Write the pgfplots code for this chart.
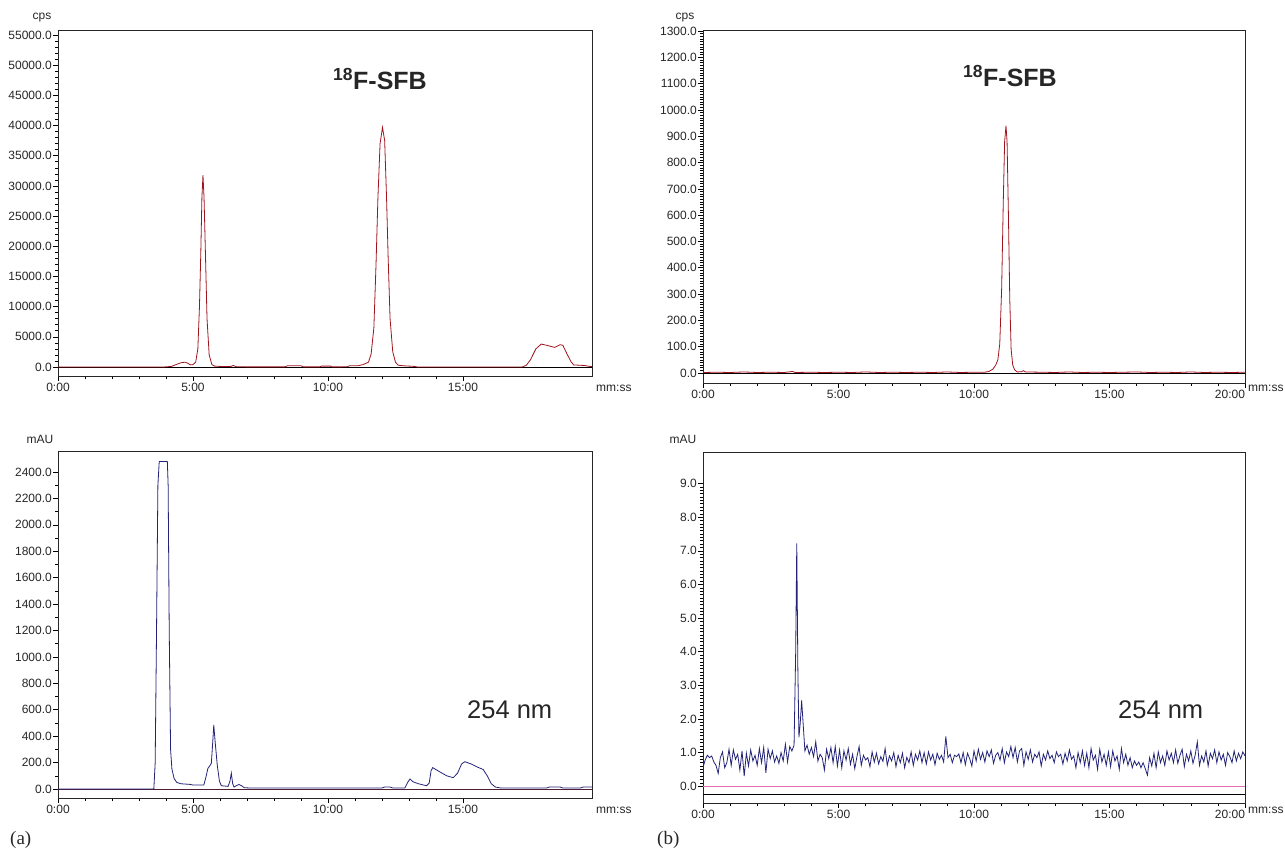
\documentclass[border=0pt]{standalone}
\usepackage{fontspec}
\setmainfont{Liberation Sans}
\newfontfamily\serifx{Liberation Serif}
\usepackage{pgfplots}
\pgfplotsset{compat=1.18}
\definecolor{trred}{RGB}{160,20,30}
\definecolor{trblue}{RGB}{35,35,120}
\definecolor{pinkl}{RGB}{230,110,180}
\definecolor{basebrown}{RGB}{80,30,50}
\pgfplotsset{chrom/.style={scale only axis, anchor=north west,
  axis line style={black!85, line width=0.8pt},
  tick pos=left, tick align=outside,
  major tick length=5pt, minor tick length=3pt,
  every tick/.style={black, line width=0.6pt},
  scaled y ticks=false,
  ticklabel style={font=\fontsize{12}{13}\selectfont, text=black!85},
  /pgf/number format/assume math mode=true,
  yticklabel style={/pgf/number format/fixed, /pgf/number format/fixed zerofill, /pgf/number format/precision=1, /pgf/number format/1000 sep={}, inner sep=1pt},
  xticklabel style={inner sep=2pt},
  minor x tick num=4}}
\begin{document}
\begin{tikzpicture}
\path (0,0) rectangle (1285pt,-855pt);
% ---------------- A1 ----------------
\begin{axis}[chrom, at={(58pt,-30pt)}, width=534pt, height=346pt,
  xmin=0, xmax=19.78, ymin=-1491, ymax=55830,
  xtick={0,5,10,15}, xticklabels={0:00,5:00,10:00,15:00},
  ytick={0,5000,...,55000}, minor y tick num=4]
\addplot[black, line width=0.8pt] coordinates {(0,0) (19.78,0)};
\addplot[trred, line width=0.8pt] coordinates {
(0,0)(3.9,0)(4.0,30)(4.2,100)(4.4,450)(4.55,700)(4.7,800)(4.8,650)(4.9,350)(5.0,400)
(5.1,800)(5.18,3000)(5.24,10000)(5.29,19000)(5.33,28000)(5.37,31800)(5.41,28000)(5.46,19000)(5.52,8000)(5.6,2000)(5.7,400)
(5.8,150)(6.0,100)(6.4,100)(6.5,250)(6.6,60)(7.0,20)(8.4,20)(8.5,200)(9.0,200)(9.1,20)(9.7,20)(9.75,150)(10.1,150)(10.15,20)
(10.7,30)(10.8,200)(11.1,200)(11.3,400)(11.5,800)(11.6,2200)(11.7,6500)(11.78,17000)(11.85,28000)(11.93,37000)(12.02,39700)
(12.1,37500)(12.17,28000)(12.23,18000)(12.3,8000)(12.4,2500)(12.5,800)(12.6,300)(12.8,200)(13.2,100)(13.3,10)
(17.2,10)(17.35,300)(17.5,1200)(17.7,3000)(17.9,3800)(18.1,3600)(18.4,3250)(18.6,3700)(18.7,3600)(18.85,2200)(19.0,900)
(19.1,350)(19.3,300)(19.5,250)(19.7,100)(19.78,80)};
\end{axis}
% ---------------- A2 ----------------
\begin{axis}[chrom, at={(58pt,-451pt)}, width=534pt, height=347pt,
  xmin=0, xmax=19.78, ymin=-68, ymax=2559,
  xtick={0,5,10,15}, xticklabels={0:00,5:00,10:00,15:00},
  ytick={0,200,...,2400}, minor y tick num=1]
\addplot[basebrown, line width=0.9pt] coordinates {(0,0) (19.78,0)};
\addplot[trblue, line width=0.8pt] coordinates {
(0,0)(3.55,0)(3.6,200)(3.65,1200)(3.7,2300)(3.75,2480)(4.05,2480)(4.08,2300)(4.12,1200)(4.17,300)(4.22,150)
(4.3,80)(4.4,50)(4.55,40)(4.9,35)(5.0,30)(5.4,30)(5.48,90)(5.55,155)(5.62,175)(5.68,195)(5.73,350)(5.77,485)
(5.82,360)(5.9,180)(5.98,60)(6.05,25)(6.3,20)(6.37,60)(6.42,120)(6.47,40)(6.52,15)(6.6,25)(6.7,35)(6.8,25)(6.9,10)
(7.1,8)(12.0,8)(12.1,15)(12.3,15)(12.4,8)(12.85,8)(12.95,50)(13.04,76)(13.15,55)(13.35,40)(13.55,30)(13.65,25)
(13.75,45)(13.82,140)(13.88,162)(14.1,135)(14.4,100)(14.64,86)(14.8,120)(14.95,190)(15.07,207)(15.3,190)(15.55,165)
(15.75,148)(15.9,100)(16.05,40)(16.2,15)(16.4,8)(18.1,8)(18.2,15)(18.6,15)(18.7,8)(19.35,8)(19.45,15)(19.78,15)};
\end{axis}
% ---------------- B1 ----------------
\begin{axis}[chrom, at={(703pt,-30pt)}, width=542pt, height=353pt,
  xmin=0, xmax=20, ymin=-38, ymax=1304,
  xtick={0,5,10,15,20}, xticklabels={0:00,5:00,10:00,15:00,\makebox[0pt][r]{20:00}},
  ytick={0,100,...,1300}, minor y tick num=9]
\addplot[black, line width=0.8pt] coordinates {(0,0) (20,0)};
\addplot[trred, line width=0.8pt] coordinates {
(0,2)(0.5,3)(1,2)(1.5,4)(2,2)(2.5,3)(3,2)(3.3,6)(3.4,2)(4,3)(4.5,2)(5,3)(5.5,2)(6,4)(6.5,2)(7,3)(7.5,2)(8,3)
(8.5,2)(9,4)(9.5,2)(10,3)(10.4,3)(10.55,6)(10.7,15)(10.8,30)(10.88,50)(10.95,110)(11.02,320)(11.08,650)(11.13,880)
(11.18,940)(11.22,880)(11.27,600)(11.32,280)(11.37,90)(11.43,30)(11.5,12)(11.6,4)(11.75,5)(11.82,9)(11.9,4)
(12.5,3)(13,2)(13.5,4)(14,2)(14.5,3)(15,2)(15.5,3)(16,4)(16.5,2)(17,3)(17.5,2)(18,4)(18.5,2)(19,3)(19.5,2)(20,3)};
\end{axis}
% ---------------- B2 ----------------
\begin{axis}[chrom, at={(703pt,-452pt)}, width=542pt, height=351pt,
  xmin=0, xmax=20, ymin=-0.5, ymax=9.94,
  xtick={0,5,10,15,20}, xticklabels={0:00,5:00,10:00,15:00,\makebox[0pt][r]{20:00}},
  ytick={0,1,...,9}, minor y tick num=9]
\addplot[black, line width=0.9pt] coordinates {(0,-0.24) (20,-0.24)};
\addplot[pinkl, line width=0.8pt] coordinates {(0,0) (20,0)};
\addplot[trblue, line width=0.8pt] coordinates {
(0.00,0.55)(0.08,0.78)(0.16,0.92)(0.24,0.85)(0.32,0.90)(0.40,0.72)(0.48,0.62)(0.56,0.38)(0.64,0.85)(0.72,1.02)
(0.80,0.55)(0.88,0.70)(0.96,1.10)(1.04,0.62)(1.12,1.08)(1.20,0.80)(1.28,0.95)(1.36,0.48)(1.44,1.05)(1.52,0.30)
(1.60,0.98)(1.68,0.60)(1.76,1.08)(1.84,0.75)(1.92,0.92)(2.00,0.62)(2.08,1.12)(2.16,0.70)(2.24,1.15)(2.32,0.40)
(2.40,1.10)(2.48,0.82)(2.56,1.05)(2.64,0.72)(2.72,0.90)(2.80,0.68)(2.88,1.00)(2.96,0.75)(3.04,1.25)(3.12,0.72)
(3.20,1.18)(3.28,1.05)(3.36,1.22)(3.42,4.0)(3.46,7.22)(3.50,3.5)(3.54,1.45)(3.59,1.9)(3.64,2.55)(3.70,1.8)
(3.76,1.05)(3.84,1.22)(3.92,0.95)(4.00,1.15)(4.08,0.88)(4.16,1.32)(4.24,0.75)(4.32,0.95)(4.40,0.85)(4.48,0.48)
(4.56,1.10)(4.64,0.82)(4.72,1.15)(4.80,0.70)(4.88,1.18)(4.96,0.60)(5.04,1.08)(5.12,0.55)(5.20,1.05)(5.28,0.78)
(5.36,1.12)(5.44,0.65)(5.52,0.95)(5.60,0.52)(5.68,0.88)(5.76,1.18)(5.84,0.62)(5.92,0.92)(6.00,0.78)(6.08,0.85)
(6.16,0.58)(6.24,1.02)(6.32,0.72)(6.40,0.98)(6.48,0.66)(6.56,0.88)(6.64,0.74)(6.72,1.12)(6.80,0.62)(6.88,0.90)
(6.96,0.75)(7.04,1.00)(7.12,0.58)(7.20,0.92)(7.28,0.70)(7.36,0.98)(7.44,0.55)(7.52,0.86)(7.60,0.70)(7.68,1.02)
(7.76,0.62)(7.84,0.95)(7.92,0.78)(8.00,1.05)(8.08,0.70)(8.16,1.00)(8.24,0.66)(8.32,1.02)(8.40,0.78)(8.48,0.95)
(8.56,0.64)(8.64,0.98)(8.72,0.80)(8.80,0.92)(8.88,0.72)(8.96,1.48)(9.04,0.85)(9.12,0.95)(9.20,0.70)(9.28,0.92)
(9.36,0.88)(9.44,0.96)(9.52,0.70)(9.60,1.00)(9.68,0.64)(9.76,0.98)(9.84,0.82)(9.92,0.60)(10.00,1.05)(10.08,0.75)
(10.16,1.10)(10.24,0.80)(10.32,1.00)(10.40,0.72)(10.48,1.05)(10.56,0.88)(10.64,1.08)(10.72,0.68)(10.80,0.92)(10.88,1.00)
(10.96,0.78)(11.04,1.12)(11.12,0.70)(11.20,1.02)(11.28,0.88)(11.36,1.18)(11.44,0.85)(11.52,1.15)(11.60,0.72)(11.68,1.05)
(11.76,1.12)(11.84,0.62)(11.92,1.02)(12.00,0.80)(12.08,1.08)(12.16,0.72)(12.24,0.95)(12.32,0.85)(12.40,1.02)(12.48,0.60)
(12.56,0.95)(12.64,0.78)(12.72,1.05)(12.80,0.82)(12.88,0.92)(12.96,0.70)(13.04,1.02)(13.12,0.88)(13.20,0.95)(13.28,0.66)
(13.36,0.98)(13.44,0.75)(13.52,1.08)(13.60,0.80)(13.68,0.90)(13.76,0.55)(13.84,1.00)(13.92,0.70)(14.00,1.05)(14.08,0.62)
(14.16,0.98)(14.24,0.55)(14.32,1.12)(14.40,0.78)(14.48,0.92)(14.56,0.50)(14.64,1.10)(14.72,0.72)(14.80,0.95)(14.88,0.62)
(14.96,1.02)(15.04,0.58)(15.12,1.05)(15.20,0.75)(15.28,0.90)(15.36,0.50)(15.44,1.12)(15.52,0.70)(15.60,0.95)(15.68,0.62)
(15.76,0.85)(15.84,0.55)(15.92,0.75)(16.00,0.62)(16.08,0.72)(16.16,0.55)(16.24,0.70)(16.32,0.52)(16.40,0.33)(16.48,0.85)
(16.56,0.60)(16.64,0.98)(16.72,0.55)(16.80,1.02)(16.88,0.70)(16.96,0.90)(17.04,0.62)(17.12,1.05)(17.20,0.78)(17.28,0.98)
(17.36,0.70)(17.44,1.08)(17.52,0.68)(17.60,0.92)(17.68,1.10)(17.76,0.58)(17.84,0.95)(17.92,0.75)(18.00,1.05)(18.08,0.68)
(18.16,0.92)(18.24,1.32)(18.32,0.62)(18.40,0.90)(18.48,0.72)(18.56,1.05)(18.64,0.60)(18.72,0.98)(18.80,0.82)(18.88,1.08)
(18.96,0.70)(19.04,1.02)(19.12,0.78)(19.20,0.95)(19.28,0.62)(19.36,1.00)(19.44,0.88)(19.52,0.70)(19.60,1.05)(19.68,0.75)
(19.76,0.98)(19.84,0.82)(19.92,1.02)(20.00,0.90)};
\end{axis}
% ---------------- texts ----------------
\begin{scope}[every node/.style={text=black!85, inner sep=0pt}]
\node[font=\fontsize{12}{13}\selectfont] at (42pt,-18pt) {cps};
\node[font=\fontsize{12}{13}\selectfont] at (685pt,-18pt) {cps};
\node[font=\fontsize{12}{13}\selectfont] at (40pt,-439pt) {mAU};
\node[font=\fontsize{12}{13}\selectfont] at (683pt,-439pt) {mAU};
\node[font=\fontsize{12}{13}\selectfont, anchor=west] at (596pt,-388pt) {mm:ss};
\node[font=\fontsize{12}{13}\selectfont, anchor=west] at (596pt,-810pt) {mm:ss};
\node[font=\fontsize{12}{13}\selectfont, anchor=west] at (1248pt,-388pt) {mm:ss};
\node[font=\fontsize{12}{13}\selectfont, anchor=west] at (1248pt,-810pt) {mm:ss};
\node[font=\bfseries\fontsize{25}{28}\selectfont] at (380pt,-79pt) {\textsuperscript{18}F-SFB};
\node[font=\bfseries\fontsize{25}{28}\selectfont] at (1010pt,-76pt) {\textsuperscript{18}F-SFB};
\node[font=\fontsize{25.5}{28}\selectfont, anchor=base west] at (467pt,-718pt) {254 nm};
\node[font=\fontsize{25.5}{28}\selectfont, anchor=base west] at (1118pt,-718pt) {254 nm};
\node[font=\serifx\fontsize{19}{21}\selectfont, anchor=west] at (10pt,-840pt) {(a)};
\node[font=\serifx\fontsize{19}{21}\selectfont, anchor=west] at (657pt,-840pt) {(b)};
\end{scope}
\end{tikzpicture}
\end{document}
